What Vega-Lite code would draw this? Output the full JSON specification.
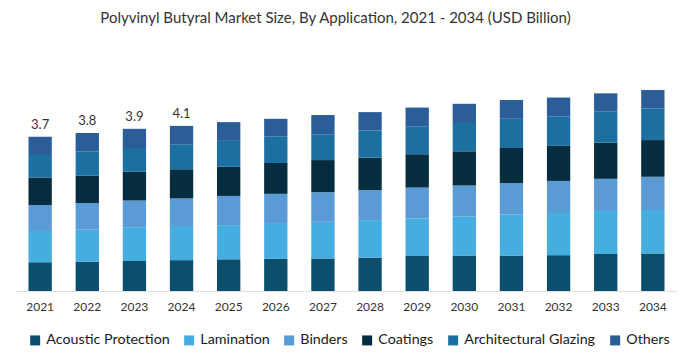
{
  "$schema": "https://vega.github.io/schema/vega-lite/v6.json",
  "width": 661,
  "height": 241,
  "autosize": {"type": "none"},
  "padding": {"left": 16, "top": 50, "right": 16, "bottom": 63},
  "background": "white",
  "title": {
    "text": "Polyvinyl Butyral Market Size, By Application, 2021 - 2034 (USD Billion)",
    "font": "Lato",
    "fontSize": 15,
    "fontWeight": "normal",
    "color": "#333333",
    "anchor": "middle",
    "dx": -11,
    "offset": 24
  },
  "config": {
    "view": {"stroke": null},
    "font": "Lato"
  },
  "data": {
    "values": [
      {"year": "2021", "segment": "Acoustic Protection", "order": 1, "value": 0.69},
      {"year": "2021", "segment": "Lamination", "order": 2, "value": 0.75},
      {"year": "2021", "segment": "Binders", "order": 3, "value": 0.62},
      {"year": "2021", "segment": "Coatings", "order": 4, "value": 0.66},
      {"year": "2021", "segment": "Architectural Glazing", "order": 5, "value": 0.54},
      {"year": "2021", "segment": "Others", "order": 6, "value": 0.44, "label": "3.7"},
      {"year": "2022", "segment": "Acoustic Protection", "order": 1, "value": 0.70},
      {"year": "2022", "segment": "Lamination", "order": 2, "value": 0.77},
      {"year": "2022", "segment": "Binders", "order": 3, "value": 0.64},
      {"year": "2022", "segment": "Coatings", "order": 4, "value": 0.66},
      {"year": "2022", "segment": "Architectural Glazing", "order": 5, "value": 0.58},
      {"year": "2022", "segment": "Others", "order": 6, "value": 0.44, "label": "3.8"},
      {"year": "2023", "segment": "Acoustic Protection", "order": 1, "value": 0.72},
      {"year": "2023", "segment": "Lamination", "order": 2, "value": 0.81},
      {"year": "2023", "segment": "Binders", "order": 3, "value": 0.64},
      {"year": "2023", "segment": "Coatings", "order": 4, "value": 0.69},
      {"year": "2023", "segment": "Architectural Glazing", "order": 5, "value": 0.57},
      {"year": "2023", "segment": "Others", "order": 6, "value": 0.46, "label": "3.9"},
      {"year": "2024", "segment": "Acoustic Protection", "order": 1, "value": 0.74},
      {"year": "2024", "segment": "Lamination", "order": 2, "value": 0.82},
      {"year": "2024", "segment": "Binders", "order": 3, "value": 0.66},
      {"year": "2024", "segment": "Coatings", "order": 4, "value": 0.70},
      {"year": "2024", "segment": "Architectural Glazing", "order": 5, "value": 0.60},
      {"year": "2024", "segment": "Others", "order": 6, "value": 0.44, "label": "4.1"},
      {"year": "2025", "segment": "Acoustic Protection", "order": 1, "value": 0.76},
      {"year": "2025", "segment": "Lamination", "order": 2, "value": 0.82},
      {"year": "2025", "segment": "Binders", "order": 3, "value": 0.70},
      {"year": "2025", "segment": "Coatings", "order": 4, "value": 0.70},
      {"year": "2025", "segment": "Architectural Glazing", "order": 5, "value": 0.62},
      {"year": "2025", "segment": "Others", "order": 6, "value": 0.45},
      {"year": "2026", "segment": "Acoustic Protection", "order": 1, "value": 0.77},
      {"year": "2026", "segment": "Lamination", "order": 2, "value": 0.86},
      {"year": "2026", "segment": "Binders", "order": 3, "value": 0.70},
      {"year": "2026", "segment": "Coatings", "order": 4, "value": 0.74},
      {"year": "2026", "segment": "Architectural Glazing", "order": 5, "value": 0.64},
      {"year": "2026", "segment": "Others", "order": 6, "value": 0.42},
      {"year": "2027", "segment": "Acoustic Protection", "order": 1, "value": 0.78},
      {"year": "2027", "segment": "Lamination", "order": 2, "value": 0.88},
      {"year": "2027", "segment": "Binders", "order": 3, "value": 0.71},
      {"year": "2027", "segment": "Coatings", "order": 4, "value": 0.77},
      {"year": "2027", "segment": "Architectural Glazing", "order": 5, "value": 0.62},
      {"year": "2027", "segment": "Others", "order": 6, "value": 0.46},
      {"year": "2028", "segment": "Acoustic Protection", "order": 1, "value": 0.80},
      {"year": "2028", "segment": "Lamination", "order": 2, "value": 0.90},
      {"year": "2028", "segment": "Binders", "order": 3, "value": 0.72},
      {"year": "2028", "segment": "Coatings", "order": 4, "value": 0.78},
      {"year": "2028", "segment": "Architectural Glazing", "order": 5, "value": 0.65},
      {"year": "2028", "segment": "Others", "order": 6, "value": 0.44},
      {"year": "2029", "segment": "Acoustic Protection", "order": 1, "value": 0.84},
      {"year": "2029", "segment": "Lamination", "order": 2, "value": 0.90},
      {"year": "2029", "segment": "Binders", "order": 3, "value": 0.74},
      {"year": "2029", "segment": "Coatings", "order": 4, "value": 0.80},
      {"year": "2029", "segment": "Architectural Glazing", "order": 5, "value": 0.66},
      {"year": "2029", "segment": "Others", "order": 6, "value": 0.46},
      {"year": "2030", "segment": "Acoustic Protection", "order": 1, "value": 0.85},
      {"year": "2030", "segment": "Lamination", "order": 2, "value": 0.94},
      {"year": "2030", "segment": "Binders", "order": 3, "value": 0.74},
      {"year": "2030", "segment": "Coatings", "order": 4, "value": 0.82},
      {"year": "2030", "segment": "Architectural Glazing", "order": 5, "value": 0.68},
      {"year": "2030", "segment": "Others", "order": 6, "value": 0.46},
      {"year": "2031", "segment": "Acoustic Protection", "order": 1, "value": 0.85},
      {"year": "2031", "segment": "Lamination", "order": 2, "value": 0.98},
      {"year": "2031", "segment": "Binders", "order": 3, "value": 0.76},
      {"year": "2031", "segment": "Coatings", "order": 4, "value": 0.84},
      {"year": "2031", "segment": "Architectural Glazing", "order": 5, "value": 0.70},
      {"year": "2031", "segment": "Others", "order": 6, "value": 0.45},
      {"year": "2032", "segment": "Acoustic Protection", "order": 1, "value": 0.86},
      {"year": "2032", "segment": "Lamination", "order": 2, "value": 1.01},
      {"year": "2032", "segment": "Binders", "order": 3, "value": 0.77},
      {"year": "2032", "segment": "Coatings", "order": 4, "value": 0.84},
      {"year": "2032", "segment": "Architectural Glazing", "order": 5, "value": 0.71},
      {"year": "2032", "segment": "Others", "order": 6, "value": 0.45},
      {"year": "2033", "segment": "Acoustic Protection", "order": 1, "value": 0.89},
      {"year": "2033", "segment": "Lamination", "order": 2, "value": 1.03},
      {"year": "2033", "segment": "Binders", "order": 3, "value": 0.77},
      {"year": "2033", "segment": "Coatings", "order": 4, "value": 0.87},
      {"year": "2033", "segment": "Architectural Glazing", "order": 5, "value": 0.74},
      {"year": "2033", "segment": "Others", "order": 6, "value": 0.44},
      {"year": "2034", "segment": "Acoustic Protection", "order": 1, "value": 0.90},
      {"year": "2034", "segment": "Lamination", "order": 2, "value": 1.04},
      {"year": "2034", "segment": "Binders", "order": 3, "value": 0.80},
      {"year": "2034", "segment": "Coatings", "order": 4, "value": 0.88},
      {"year": "2034", "segment": "Architectural Glazing", "order": 5, "value": 0.76},
      {"year": "2034", "segment": "Others", "order": 6, "value": 0.44}
    ]
  },
  "encoding": {
    "x": {
      "field": "year",
      "type": "ordinal",
      "scale": {"paddingInner": 0.505, "paddingOuter": 0.265},
      "axis": {
        "title": null,
        "labelAngle": 0,
        "labelFont": "Lato",
        "labelFontSize": 12,
        "labelColor": "#333333",
        "labelPadding": 10,
        "ticks": false,
        "domainColor": "#e0e0e0",
        "domainWidth": 1,
        "grid": false
      }
    }
  },
  "layer": [
    {
      "mark": {"type": "bar"},
      "encoding": {
        "y": {
          "field": "value",
          "type": "quantitative",
          "aggregate": "sum",
          "stack": "zero",
          "scale": {"domain": [0, 5.78], "nice": false, "zero": true},
          "axis": null
        },
        "color": {
          "field": "segment",
          "type": "nominal",
          "scale": {
            "domain": ["Acoustic Protection", "Lamination", "Binders", "Coatings", "Architectural Glazing", "Others"],
            "range": ["#0b4f6c", "#45ade0", "#5b9bd5", "#062c40", "#1b6fa1", "#2b5e98"]
          },
          "legend": {
            "title": null,
            "orient": "none",
            "direction": "horizontal",
            "legendX": 12,
            "legendY": 283,
            "symbolType": "square",
            "symbolSize": 100,
            "symbolStrokeWidth": 0,
            "labelFont": "Lato",
            "labelFontSize": 14.3,
            "labelColor": "#1a1a1a",
            "columnPadding": 12,
            "symbolOffset": 0,
            "labelOffset": 4
          }
        },
        "order": {"field": "order", "type": "quantitative", "sort": "ascending"}
      }
    },
    {
      "transform": [
        {"joinaggregate": [{"op": "sum", "field": "value", "as": "total"}], "groupby": ["year"]},
        {"filter": "isValid(datum.label)"}
      ],
      "mark": {"type": "text", "baseline": "bottom", "dy": -5, "font": "Lato", "fontSize": 13, "color": "#333333"},
      "encoding": {
        "y": {"field": "total", "type": "quantitative", "stack": null},
        "text": {"field": "label", "type": "nominal"}
      }
    }
  ]
}
